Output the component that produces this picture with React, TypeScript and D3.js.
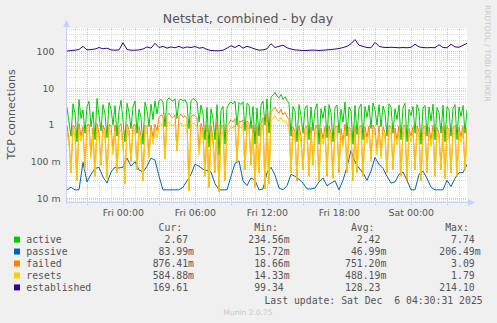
import React from 'react';
import * as d3 from 'd3';

const W = 497;
const H = 323;
const PL = 67;
const PR = 467;
const PT = 28;
const PB = 203;

const HOUR = 3600e3;
const FRI0 = Date.UTC(2025, 11, 5, 0, 0, 0);
const T_START = FRI0 - (56.3 / 12) * HOUR;
const T_END = T_START + (400 / 12) * HOUR;
const Y_MIN = Math.pow(10, -2.1282);
const Y_MAX = Math.pow(10, 2.6467);

const seriesNames = ['active', 'passive', 'failed', 'resets', 'established'];
const seriesColors = ['#00CC00', '#0066B3', '#FF8000', '#FFCC00', '#330099'];
const curVals = ['2.67', '83.99m', '876.41m', '584.88m', '169.61'];
const minVals = ['234.56m', '15.72m', '18.66m', '14.33m', '99.34'];
const avgVals = ['2.42', '46.99m', '751.20m', '488.19m', '128.23'];
const maxVals = ['7.74', '206.49m', '3.09', '1.79', '214.10'];
const yTicks = [0.01, 0.1, 1, 10, 100];
const yTickLabels = ['10 m', '100 m', '1', '10', '100'];

const active = [
  3.0, 1.2, 0.5, 3.8, 2.1, 0.35, 4.9, 1.5, 2.6, 0.6, 3.2, 4.4, 0.9, 2.3, 0.4, 5.3, 1.8, 0.7, 3.6, 2.0,
  0.45, 4.1, 2.8, 1.0, 3.4, 0.5, 2.4, 4.7, 1.3, 0.35, 3.9, 2.2, 0.8, 3.1, 4.5, 0.6, 2.7, 1.6, 0.3, 4.2,
  2.5, 0.9, 3.7, 1.4, 4.6, 2.0,
  4.6, 5.0, 4.2, 0.9, 4.8, 5.5, 4.9, 4.4, 5.2, 1.5, 4.7, 5.1, 4.5, 4.9, 3.8, 0.8, 4.6, 5.3, 4.8, 4.2,
  1.2, 3.5, 2.0, 0.4, 3.0, 0.25, 2.8, 1.5, 0.4, 3.6, 0.15, 2.5, 3.2, 0.3, 2.9, 3.8,
  4.2, 3.8, 4.5, 1.0, 4.1, 3.6, 4.3, 0.7, 3.9, 3.5,
  0.8, 3.2, 0.3, 2.9, 0.5, 3.5,
  4.5, 1.0, 5.2, 0.6, 5.8, 6.5, 7.74, 6.2, 5.5, 6.8, 5.0, 5.9, 4.6, 4.0,
  0.5, 3.2, 2.4, 0.35, 3.6, 1.8, 0.6, 2.9, 3.4, 0.4,
  3.1, 0.7, 2.6, 3.8, 0.3, 2.8, 1.5, 3.3, 0.45, 3.6,
  2.2, 0.35, 3.0, 3.5, 0.6, 2.7, 1.2, 4.2, 0.5, 3.1,
  2.5, 0.3, 3.4, 0.55, 2.9, 3.7, 0.4, 3.2, 1.6, 3.5,
  0.8, 4.0, 2.6, 1.0, 3.6, 0.9, 3.3, 2.1, 0.5, 3.8,
  3.0, 0.6, 2.8, 1.4, 3.5, 0.4, 3.0, 3.9, 0.35, 2.7,
  1.8, 3.2, 0.6, 3.6, 2.4, 0.3, 2.9, 3.4, 0.5, 3.1,
  1.3, 3.7, 0.4, 3.0, 2.2, 0.6, 3.5, 0.35, 3.2, 2.6,
  0.5, 2.8, 3.6, 0.4, 3.1, 1.7, 3.4, 0.6, 2.67,
];

const passive = [
  0.017, 0.020, 0.017, 0.017, 0.095, 0.028, 0.045, 0.065, 0.070, 0.038,
  0.026, 0.052, 0.071, 0.067, 0.071, 0.125, 0.075, 0.100, 0.060, 0.052,
  0.075, 0.125, 0.110, 0.040, 0.017, 0.017, 0.017, 0.017, 0.017, 0.020,
  0.030, 0.045, 0.085, 0.075, 0.062, 0.057, 0.052, 0.025, 0.017, 0.017,
  0.017, 0.040, 0.090, 0.105, 0.030, 0.022, 0.036, 0.031, 0.017, 0.018,
  0.050, 0.070, 0.043, 0.019, 0.017, 0.022, 0.045, 0.040, 0.033, 0.026,
  0.018, 0.018, 0.019, 0.028, 0.036, 0.022, 0.026, 0.030, 0.017, 0.031,
  0.071, 0.200, 0.098, 0.067, 0.049, 0.031, 0.055, 0.130, 0.085, 0.065,
  0.040, 0.026, 0.028, 0.045, 0.052, 0.031, 0.017, 0.017, 0.045, 0.055,
  0.035, 0.020, 0.017, 0.017, 0.017, 0.031, 0.021, 0.035, 0.050, 0.050,
  0.084,
];

const failed = [
  0.95, 0.4, 0.05, 1.0, 0.8, 0.03, 1.1, 0.5, 0.9, 0.07, 1.0, 1.05, 0.15, 0.85, 0.04, 1.1, 0.6, 0.08, 1.0, 0.7,
  0.035, 1.05, 0.95, 0.2, 1.0, 0.05, 0.9, 1.1, 0.35, 0.025, 1.05, 0.75, 0.1, 0.95, 1.05, 0.06, 0.9, 0.5, 0.03, 1.0,
  0.9, 0.15, 1.0, 0.45, 1.05, 0.7,
  1.6, 1.9, 1.7, 0.12, 1.8, 2.1, 1.7, 1.6, 1.9, 0.2, 1.7, 2.0, 1.6, 1.8, 1.5, 0.016, 1.7, 1.9, 1.8, 1.6,
  0.2, 1.1, 0.7, 0.04, 1.0, 0.02, 0.95, 0.45, 0.05, 1.2, 0.015, 0.9, 1.0, 0.03, 0.95, 1.1,
  1.4, 1.2, 1.5, 0.1, 1.3, 1.2, 1.4, 0.06, 1.3, 1.1,
  0.08, 1.0, 0.02, 0.9, 0.05, 1.1,
  1.6, 0.018, 2.0, 0.025, 2.3, 2.6, 3.09, 2.4, 2.1, 2.7, 1.9, 2.2, 1.7, 1.4,
  0.05, 0.9, 0.65, 0.03, 0.95, 0.5, 0.06, 0.85, 0.92, 0.04,
  0.88, 0.08, 0.8, 1.0, 0.03, 0.82, 0.42, 0.9, 0.04, 0.95,
  0.6, 0.035, 0.86, 0.94, 0.05, 0.8, 0.35, 1.05, 0.05, 0.88,
  0.75, 0.03, 0.92, 0.05, 0.84, 0.98, 0.04, 0.9, 0.45, 0.93,
  0.12, 1.0, 0.78, 0.2, 0.95, 0.15, 0.9, 0.6, 0.05, 0.98,
  0.88, 0.06, 0.83, 0.4, 0.94, 0.04, 0.87, 1.0, 0.03, 0.8,
  0.5, 0.9, 0.06, 0.95, 0.65, 0.03, 0.85, 0.92, 0.05, 0.88,
  0.38, 0.97, 0.04, 0.87, 0.6, 0.06, 0.93, 0.035, 0.9, 0.75,
  0.05, 0.83, 0.95, 0.04, 0.88, 0.48, 0.92, 0.06, 0.876,
];

const resets = [
  0.65, 0.3, 0.05, 0.7, 0.5, 0.03, 0.75, 0.35, 0.6, 0.06, 0.68, 0.72, 0.12, 0.55, 0.04, 0.8, 0.4, 0.08, 0.7, 0.45,
  0.035, 0.74, 0.62, 0.15, 0.7, 0.05, 0.58, 0.76, 0.25, 0.025, 0.72, 0.5, 0.1, 0.66, 0.75, 0.06, 0.62, 0.35, 0.03, 0.7,
  0.6, 0.12, 0.7, 0.3, 0.74, 0.45,
  1.0, 1.1, 0.95, 0.12, 1.05, 1.2, 1.0, 0.95, 1.1, 0.2, 1.0, 1.15, 0.95, 1.05, 0.9, 0.016, 1.0, 1.1, 1.05, 0.95,
  0.15, 0.7, 0.45, 0.04, 0.65, 0.02, 0.6, 0.3, 0.05, 0.75, 0.015, 0.55, 0.65, 0.03, 0.6, 0.7,
  0.9, 0.85, 0.95, 0.1, 0.9, 0.85, 0.92, 0.06, 0.88, 0.8,
  0.08, 0.6, 0.02, 0.55, 0.05, 0.7,
  1.0, 0.018, 1.2, 0.025, 1.3, 1.5, 1.79, 1.4, 1.3, 1.6, 1.2, 1.35, 1.1, 0.9,
  0.05, 0.62, 0.45, 0.035, 0.66, 0.35, 0.06, 0.58, 0.64, 0.04,
  0.6, 0.08, 0.55, 0.68, 0.03, 0.57, 0.3, 0.63, 0.045, 0.65,
  0.4, 0.035, 0.6, 0.66, 0.06, 0.56, 0.25, 0.7, 0.05, 0.6,
  0.5, 0.03, 0.63, 0.05, 0.58, 0.67, 0.04, 0.61, 0.32, 0.64,
  0.1, 0.68, 0.52, 0.15, 0.65, 0.12, 0.62, 0.42, 0.05, 0.67,
  0.6, 0.06, 0.57, 0.28, 0.64, 0.04, 0.6, 0.68, 0.035, 0.56,
  0.35, 0.62, 0.06, 0.65, 0.45, 0.03, 0.58, 0.63, 0.05, 0.6,
  0.26, 0.66, 0.04, 0.6, 0.42, 0.06, 0.64, 0.035, 0.62, 0.52,
  0.05, 0.57, 0.65, 0.04, 0.6, 0.33, 0.63, 0.06, 0.585,
];

const established = [
  104, 108, 110, 115, 140, 112, 115, 118, 130, 120,
  125, 112, 110, 112, 175, 115, 110, 110, 112, 118,
  135, 125, 170, 130, 140, 125, 135, 128, 140, 125,
  135, 130, 138, 125, 130, 115, 108, 106, 106, 110,
  125, 145, 130, 150, 125, 140, 130, 118, 110, 112,
  120, 165, 130, 140, 150, 128, 118, 112, 110, 108,
  108, 110, 110, 108, 110, 112, 115, 118, 122, 130,
  140, 165, 214.1, 150, 140, 130, 128, 180, 140, 132,
  130, 132, 130, 128, 130, 128, 132, 160, 135, 130,
  128, 130, 128, 155, 130, 128, 160, 135, 132, 150,
  169.61,
];

const seriesData = [active, passive, failed, resets, established];

const SANS = 'DejaVu Sans, Verdana, sans-serif';
const MONO = 'DejaVu Sans Mono, monospace';
const TEXT = '#555555';

export default function App() {
  const x = d3.scaleUtc().domain([new Date(T_START), new Date(T_END)]).range([PL, PR]);
  const y = d3.scaleLog().domain([Y_MIN, Y_MAX]).range([PB, PT]);
  const crisp = (v: number) => Math.round(v - 0.5) + 0.5;

  const hours = d3.utcHour.every(1)!.range(new Date(T_START), new Date(T_END));
  const minorX = hours.filter((d) => d.getUTCHours() % 3 !== 0);
  const majorX = hours.filter((d) => d.getUTCHours() % 3 === 0);
  const labelX = hours.filter((d) => d.getUTCHours() % 6 === 0);
  const fmt = d3.utcFormat('%a %H:%M');

  const minorY: number[] = [];
  for (let k = -3; k <= 2; k++) {
    for (let m = 2; m <= 9; m++) {
      const v = m * Math.pow(10, k);
      if (v > Y_MIN && v < Y_MAX) minorY.push(v);
    }
  }

  const mkLine = (arr: number[]) =>
    d3
      .line<number>()
      .x((_, i) => x(new Date(T_START + (i / (arr.length - 1)) * (T_END - T_START))))
      .y((d) => y(d))(arr) || '';

  const CW = 5.9;
  const colStarts = [152.7, 248.3, 345, 439.3];
  const cols = [curVals, minVals, avgVals, maxVals];
  const headers = ['Cur:', 'Min:', 'Avg:', 'Max:'];
  const pad = (s: string) => (s.endsWith('m') ? s.padStart(7, ' ') : s.padStart(6, ' '));
  const rowY = (i: number) => 239.6 + i * 11.95;

  return (
    <svg
      width={W}
      height={H}
      viewBox={`0 0 ${W} ${H}`}
      style={{ position: 'absolute', left: 0, top: 0, display: 'block' }}
    >
      <defs>
        <clipPath id="plotclip">
          <rect x={PL} y={PT} width={PR - PL} height={PB - PT} />
        </clipPath>
      </defs>
      <rect x={0} y={0} width={W} height={H} fill="#F0F0F0" />
      <rect x={PL} y={PT} width={PR - PL} height={PB - PT} fill="#FFFFFF" />

      {minorY.map((v, i) => (
        <line
          key={'my' + i}
          x1={PL}
          x2={PR}
          y1={crisp(y(v))}
          y2={crisp(y(v))}
          stroke="#C0C0C0"
          strokeOpacity={0.6}
          strokeDasharray="1 1"
          strokeWidth={1}
        />
      ))}
      {minorX.map((d, i) => (
        <line
          key={'mx' + i}
          x1={crisp(x(d))}
          x2={crisp(x(d))}
          y1={PT}
          y2={PB}
          stroke="#C0C0C0"
          strokeOpacity={0.6}
          strokeDasharray="1 1"
          strokeWidth={1}
        />
      ))}
      {yTicks.map((v, i) => (
        <line
          key={'My' + i}
          x1={PL}
          x2={PR}
          y1={crisp(y(v))}
          y2={crisp(y(v))}
          stroke="#FF8080"
          strokeOpacity={0.6}
          strokeDasharray="1 1"
          strokeWidth={1}
        />
      ))}
      {majorX.map((d, i) => (
        <line
          key={'Mx' + i}
          x1={crisp(x(d))}
          x2={crisp(x(d))}
          y1={PT}
          y2={PB + 2}
          stroke="#FF8080"
          strokeOpacity={0.6}
          strokeDasharray="1 1"
          strokeWidth={1}
        />
      ))}

      <g clipPath="url(#plotclip)">
        {seriesData.map((arr, si) => (
          <path
            key={'s' + si}
            d={mkLine(arr)}
            fill="none"
            stroke={seriesColors[si]}
            strokeWidth={1}
            strokeLinejoin="round"
          />
        ))}
      </g>

      <line x1={66.5} x2={66.5} y1={PB + 1} y2={24} stroke="#C8D2F8" strokeWidth={1} />
      <line x1={PL - 1} x2={470} y1={202.5} y2={202.5} stroke="#C8D2F8" strokeWidth={1} />
      <path d="M66.5,20 L63,27 L70,27 Z" fill="#C8D2F8" />
      <path d="M475,202.5 L468,199 L468,206 Z" fill="#C8D2F8" />

      {yTicks.map((v, i) => (
        <text
          key={'yl' + i}
          x={v >= 1 ? 54.3 : 60.5}
          y={y(v) + 3.4}
          textAnchor="end"
          fontFamily={SANS}
          fontSize={9.3}
          fill={TEXT}
        >
          {yTickLabels[i]}
        </text>
      ))}
      {labelX.map((d, i) => (
        <text
          key={'xl' + i}
          x={x(d)}
          y={216}
          textAnchor="middle"
          fontFamily={SANS}
          fontSize={9.4}
          fill={TEXT}
        >
          {fmt(d)}
        </text>
      ))}

      <text x={248} y={22.5} textAnchor="middle" fontFamily={SANS} fontSize={12.5} fill={TEXT}>
        Netstat, combined - by day
      </text>
      <text
        transform="translate(15,114.5) rotate(-90)"
        textAnchor="middle"
        fontFamily={SANS}
        fontSize={11}
        fill={TEXT}
      >
        TCP connections
      </text>
      <text
        transform="translate(484.5,5) rotate(90)"
        fontFamily={SANS}
        fontSize={7.5}
        fill="#C8C8C8"
      >
        RRDTOOL / TOBI OETIKER
      </text>

      {headers.map((h, ci) => (
        <text
          key={'h' + ci}
          x={colStarts[ci] + CW}
          y={231}
          fontFamily={MONO}
          fontSize={9.8}
          fill={TEXT}
        >
          {h}
        </text>
      ))}
      {seriesNames.map((name, i) => (
        <g key={'lg' + i}>
          <rect x={14} y={rowY(i) - 3} width={6} height={6} fill={seriesColors[i]} />
          <text x={26.3} y={rowY(i) + 3.5} fontFamily={MONO} fontSize={9.8} fill={TEXT}>
            {name}
          </text>
          {cols.map((col, ci) => (
            <text
              key={'v' + ci}
              x={colStarts[ci]}
              y={rowY(i) + 3.5}
              fontFamily={MONO}
              fontSize={9.8}
              fill={TEXT}
              xmlSpace="preserve"
              style={{ whiteSpace: 'pre' }}
            >
              {pad(col[i])}
            </text>
          ))}
        </g>
      ))}
      <text
        x={482.7}
        y={303.5}
        textAnchor="end"
        fontFamily={MONO}
        fontSize={9.8}
        fill={TEXT}
        xmlSpace="preserve"
        style={{ whiteSpace: 'pre' }}
      >
        {'Last update: Sat Dec  6 04:30:31 2025'}
      </text>
      <text x={248} y={315} textAnchor="middle" fontFamily={SANS} fontSize={7.5} fill="#C8C8C8">
        Munin 2.0.75
      </text>
    </svg>
  );
}
